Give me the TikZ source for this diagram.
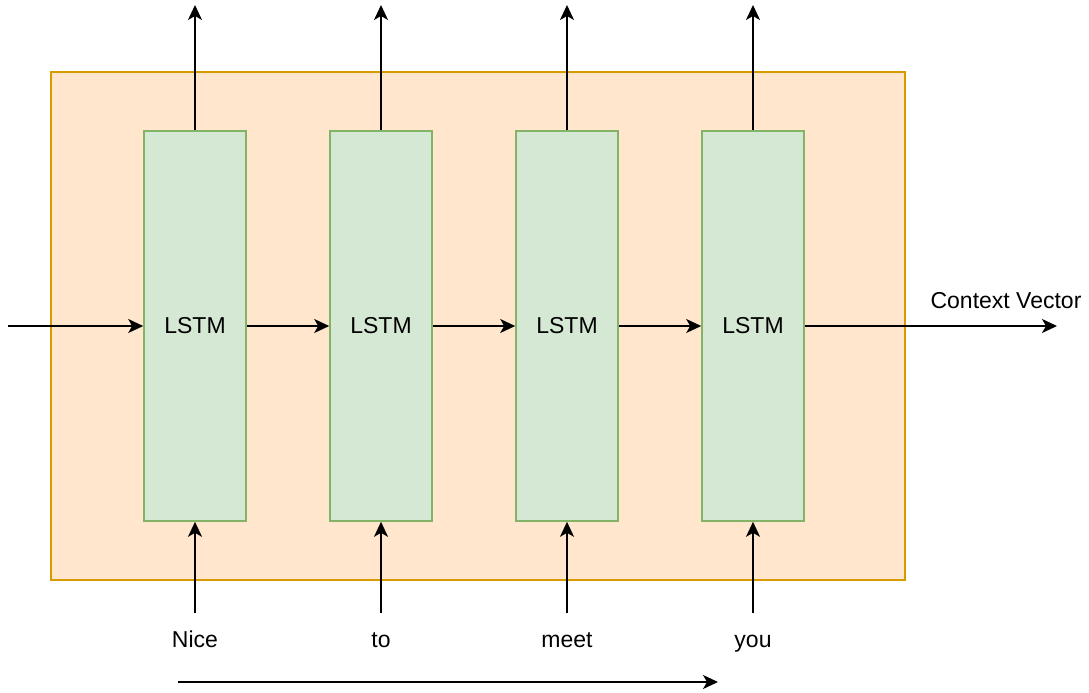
\documentclass[tikz,border=0pt]{standalone}
\usepackage{fontspec}
\setmainfont{Liberation Sans}
\usepackage{xcolor}
\usepackage{tikz}
\usetikzlibrary{arrows.meta}
\definecolor{encfill}{HTML}{FFE6CC}
\definecolor{encline}{HTML}{D79B00}
\definecolor{cellfill}{HTML}{D5E8D4}
\definecolor{cellline}{HTML}{82B366}

\begin{document}
\begin{tikzpicture}[
  x=1pt, y=-1pt,
  font=\fontsize{23}{27}\selectfont,
  enc/.style={draw=encline, fill=encfill, line width=2pt,
              minimum width=854pt, minimum height=508pt, inner sep=0pt},
  cell/.style={draw=cellline, fill=cellfill, line width=1.6pt,
               minimum width=102pt, minimum height=390pt, inner sep=0pt},
  word/.style={anchor=base, text height=16pt, text depth=5pt,
               inner sep=0pt, outer sep=18pt},
  arr/.style={-{Stealth[length=15pt, width=14pt, inset=4pt]},
              line width=1.8pt, color=black}
]
\useasboundingbox (0,0) rectangle (1089,693);
% Encoder block
\node[enc] (enc) at (478,326) {};
% LSTM cells
\node[cell] (l1) at (195,326) {LSTM};
\node[cell] (l2) at (381,326) {LSTM};
\node[cell] (l3) at (567,326) {LSTM};
\node[cell] (l4) at (753,326) {LSTM};
% Input words
\node[word] (w1) at (195,647) {Nice};
\node[word] (w2) at (381,647) {to};
\node[word] (w3) at (567,647) {meet};
\node[word] (w4) at (753,647) {you};
% Free ends
\coordinate (h0) at (8,326);
\coordinate (ctx) at (1057,326);
\coordinate (o1) at (195,5);
\coordinate (o2) at (381,5);
\coordinate (o3) at (567,5);
\coordinate (o4) at (753,5);
\coordinate (t0) at (178,682);
\coordinate (t1) at (718,682);
% Hidden state chain
\draw[arr] (h0) -- (l1.west);
\draw[arr] (l1.east) -- (l2.west);
\draw[arr] (l2.east) -- (l3.west);
\draw[arr] (l3.east) -- (l4.west);
\draw[arr] (l4.east) -- (ctx);
\node[anchor=base] (ctxlbl) at (1006,308) {Context Vector};
% Outputs
\draw[arr] (l1.north) -- (o1);
\draw[arr] (l2.north) -- (o2);
\draw[arr] (l3.north) -- (o3);
\draw[arr] (l4.north) -- (o4);
% Inputs
\draw[arr] (w1.north) -- (l1.south);
\draw[arr] (w2.north) -- (l2.south);
\draw[arr] (w3.north) -- (l3.south);
\draw[arr] (w4.north) -- (l4.south);
% Time direction
\draw[arr] (t0) -- (t1);
\end{tikzpicture}
\end{document}
